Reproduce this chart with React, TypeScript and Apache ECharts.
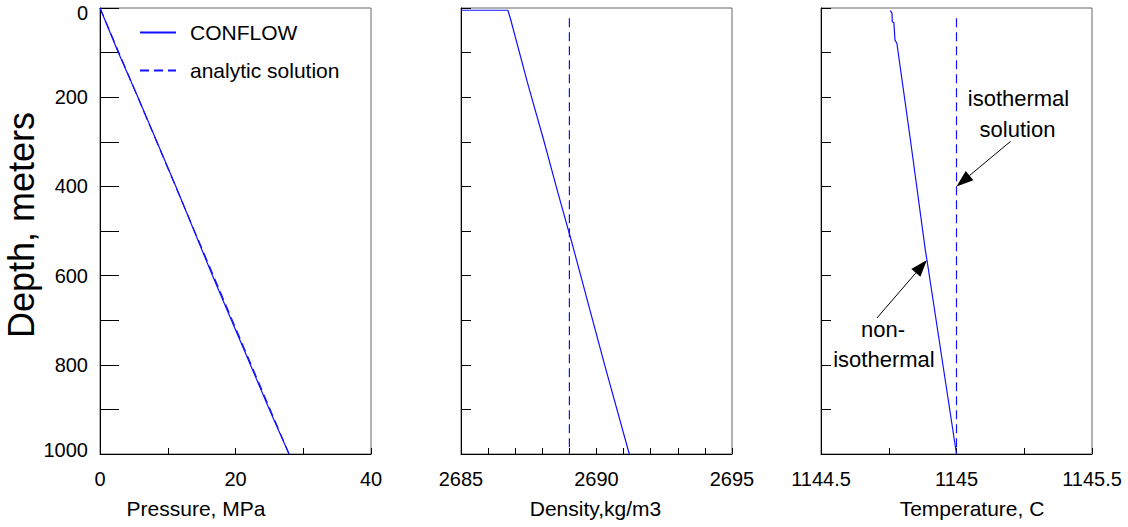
import React, { useEffect, useRef } from 'react';
import * as echarts from 'echarts';

// ---- data ----
const pressureDepth = [0, 100, 200, 300, 400, 500, 600, 700, 800, 900, 1000];
const pressureConflow = [0, 2.7, 5.6, 8.4, 11.2, 13.9, 16.6, 19.4, 22.2, 25.0, 27.9];
const pressureAnalyticDepth = [0, 1000];
const pressureAnalytic = [0, 27.9];

const densityDepth = [5, 5, 23, 169, 296, 415, 528, 800, 1000];
const densityConflow = [2685, 2686.73, 2686.82, 2687.46, 2688.05, 2688.58, 2689.1, 2690.3, 2691.21];
const densityAnalyticDepth = [23, 1000];
const densityAnalytic = [2689, 2689];

const tempDepth = [6, 12, 31, 33, 72, 79, 296, 543, 565, 1000];
const tempConflow = [1144.756, 1144.762, 1144.763, 1144.769, 1144.773, 1144.78, 1144.83, 1144.885, 1144.891, 1145.0];
const tempAnalyticDepth = [23, 1000];
const tempAnalytic = [1145, 1145];

const depthLabels = [0, 200, 400, 600, 800, 1000];
const pressureLabels = [0, 20, 40];
const densityLabels = [2685, 2690, 2695];
const tempLabels = [1144.5, 1145, 1145.5];

const seriesNames = ['CONFLOW', 'analytic solution'];
// annotation anchors (data coordinates on the temperature panel)
const isoArrowTip = [1145, 400];
const nonIsoArrowTip = [1144.891, 565];

const FONT = '"Liberation Sans", Arial, Helvetica, sans-serif';
const BLUE = '#1010ff';

const zip = (xs: number[], ys: number[]) => xs.map((x, i) => [x, ys[i]]);
const has = (arr: number[], v: number) => arr.some((a) => Math.abs(a - v) < 1e-6);

export default function App() {
  const ref = useRef<HTMLDivElement>(null);

  useEffect(() => {
    document.body.style.margin = '0';
    const chart = echarts.init(ref.current!, undefined, { renderer: 'svg' });

    const grids = [
      { left: 100, top: 8, width: 271, height: 446 },
      { left: 461, top: 8, width: 271, height: 446 },
      { left: 821, top: 8, width: 271, height: 446 },
    ].map((g) => ({ ...g, show: true, borderColor: '#666', borderWidth: 1, backgroundColor: 'transparent' }));

    const xBase = (i: number, min: number, max: number, interval: number, labels: number[], name: string, pad: number[]) => ({
      type: 'value',
      gridIndex: i,
      min,
      max,
      interval,
      position: 'bottom',
      name,
      nameLocation: 'middle',
      nameGap: 44,
      nameTextStyle: { fontFamily: FONT, fontSize: 21, color: '#000', padding: pad },
      axisLine: { show: true, onZero: false, lineStyle: { color: '#000', width: 1 } },
      axisTick: { show: true, inside: true, length: 6, lineStyle: { color: '#000' } },
      axisLabel: {
        show: true,
        margin: 15,
        fontFamily: FONT,
        fontSize: 20,
        color: '#000',
        showMinLabel: true,
        showMaxLabel: true,
        hideOverlap: false,
        formatter: (v: number) => (has(labels, v) ? String(v) : ''),
      },
      splitLine: { show: false },
    });

    const yBase = (i: number, tickLen: number, showLabels: boolean) => ({
      type: 'value',
      gridIndex: i,
      inverse: true,
      min: 0,
      max: 1000,
      interval: 100,
      ...(i === 0
        ? {
            name: 'Depth, meters',
            nameLocation: 'middle',
            nameRotate: 90,
            nameGap: 60,
            nameTextStyle: { fontFamily: FONT, fontSize: 36, color: '#000', padding: [0, 0, 0, 12] },
          }
        : {}),
      axisLine: { show: true, onZero: false, lineStyle: { color: '#000', width: 1 } },
      axisTick: { show: true, inside: true, length: tickLen, lineStyle: { color: '#000' } },
      axisLabel: {
        show: showLabels,
        margin: 12,
        fontFamily: FONT,
        fontSize: 20,
        color: '#000',
        showMinLabel: true,
        showMaxLabel: true,
        hideOverlap: false,
        formatter: (v: number) => {
          if (!has(depthLabels, v)) return '';
          if (v === 0) return '{top|0}';
          if (v === 1000) return '{bot|1000}';
          return String(v);
        },
        rich: {
          top: { fontFamily: FONT, fontSize: 20, color: '#000', padding: [9, 0, 0, 0] },
          bot: { fontFamily: FONT, fontSize: 20, color: '#000', padding: [0, 0, 8, 0] },
        },
      },
      splitLine: { show: false },
    });

    const line = (name: string, xi: number, data: number[][], dashed: boolean) => ({
      type: 'line',
      name,
      xAxisIndex: xi,
      yAxisIndex: xi,
      data,
      showSymbol: false,
      symbol: 'none',
      silent: true,
      lineStyle: { color: BLUE, width: 1.2, type: dashed ? [9, 5] : 'solid' },
      itemStyle: { color: BLUE },
      z: dashed ? 3 : 4,
    });

    chart.setOption({
      animation: false,
      backgroundColor: '#fff',
      textStyle: { fontFamily: FONT },
      grid: grids,
      legend: {
        data: seriesNames,
        orient: 'vertical',
        left: 134,
        top: 17,
        itemWidth: 36,
        itemHeight: 14,
        itemGap: 17,
        itemStyle: { opacity: 0, color: 'transparent', borderWidth: 0 },
        textStyle: { fontFamily: FONT, fontSize: 21, color: '#000', padding: [0, 0, 0, 9] },
        selectedMode: false,
      },
      xAxis: [
        xBase(0, 0, 40, 10, pressureLabels, 'Pressure, MPa', [0, 79, 0, 0]),
        xBase(1, 2685, 2695, 1, densityLabels, 'Density,kg/m3', [0, 2, 0, 0]),
        xBase(2, 1144.5, 1145.5, 0.25, tempLabels, 'Temperature, C', [0, 0, 0, 31]),
      ],
      yAxis: [yBase(0, 19, true), yBase(1, 10, false), yBase(2, 10, false)],
      series: [
        line(seriesNames[0], 0, zip(pressureConflow, pressureDepth), false),
        line(seriesNames[1], 0, zip(pressureAnalytic, pressureAnalyticDepth), true),
        line(seriesNames[0], 1, zip(densityConflow, densityDepth), false),
        line(seriesNames[1], 1, zip(densityAnalytic, densityAnalyticDepth), true),
        line(seriesNames[0], 2, zip(tempConflow, tempDepth), false),
        line(seriesNames[1], 2, zip(tempAnalytic, tempAnalyticDepth), true),
      ],
    });

    // annotations anchored to data coordinates
    const tip1 = chart.convertToPixel({ gridIndex: 2 }, isoArrowTip) as number[];
    const tip2 = chart.convertToPixel({ gridIndex: 2 }, nonIsoArrowTip) as number[];
    const arrow = (from: number[], tip: number[]) => {
      const dx = tip[0] - from[0];
      const dy = tip[1] - from[1];
      const len = Math.hypot(dx, dy);
      const ux = dx / len;
      const uy = dy / len;
      const hl = 17;
      const hw = 6;
      const bx = tip[0] - ux * hl;
      const by = tip[1] - uy * hl;
      return [
        { type: 'line', shape: { x1: from[0], y1: from[1], x2: bx, y2: by }, style: { stroke: '#000', lineWidth: 1 }, silent: true },
        {
          type: 'polygon',
          shape: { points: [tip, [bx - uy * hw, by + ux * hw], [bx + uy * hw, by - ux * hw]] },
          style: { fill: '#000' },
          silent: true,
        },
      ];
    };
    const txt = (t: string, x: number, y: number) => ({
      type: 'text',
      x,
      y,
      style: { text: t, fontFamily: FONT, fontSize: 22, fill: '#000', align: 'center', verticalAlign: 'middle' },
      silent: true,
    });
    chart.setOption({
      graphic: [
        txt('isothermal', tip1[0] + 62, tip1[1] - 88),
        txt('solution', tip1[0] + 61, tip1[1] - 57),
        ...arrow([tip1[0] + 54, tip1[1] - 45], tip1),
        txt('non-', tip2[0] - 44, tip2[1] + 70),
        txt('isothermal', tip2[0] - 43, tip2[1] + 100),
        ...arrow([tip2[0] - 50, tip2[1] + 58], tip2),
      ],
    });

    return () => chart.dispose();
  }, []);

  return <div ref={ref} style={{ width: 1128, height: 527 }} />;
}
